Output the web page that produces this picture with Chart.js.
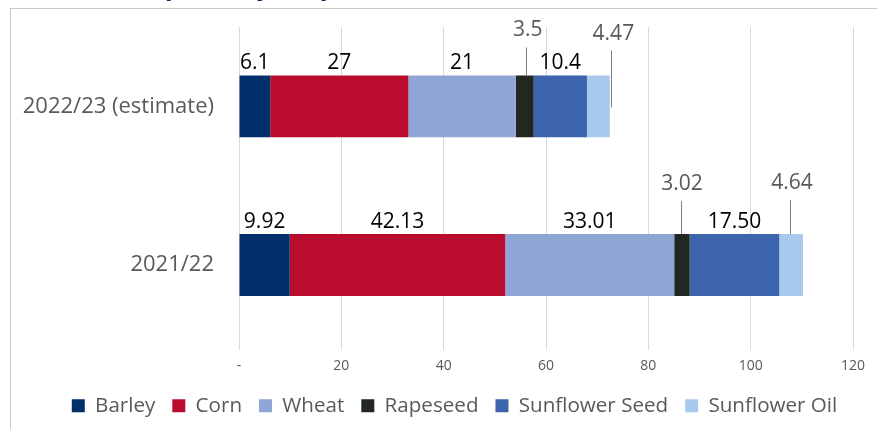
<!DOCTYPE html>
<html>
<head>
<meta charset="utf-8">
<script src="https://cdn.jsdelivr.net/npm/chart.js@4"></script>
<style>
  html, body { margin: 0; padding: 0; background: #fff; }
  body { width: 877px; height: 429px; position: relative; overflow: hidden; font-family: "Open Sans", sans-serif; }
  #frame { position: absolute; left: 10px; top: 8px; width: 900px; height: 460px; border: 1px solid #c8c8c8; box-sizing: border-box; }
  #title { position: absolute; left: 24px; top: -28px; font: bold 26px "Open Sans", sans-serif; line-height: 26px; color: #002F6C; white-space: nowrap; }
  #wrap { position: absolute; left: 0; top: 0; width: 877px; height: 429px; }
</style>
</head>
<body>
<div id="title">Ukraine exports by crop, mmt, MY</div>
<div id="frame"></div>
<div id="wrap"><canvas id="c" width="877" height="429"></canvas></div>
<script>
// ---- data ----
const categories = ['2022/23 (estimate)', '2021/22'];
const seriesNames = ['Barley', 'Corn', 'Wheat', 'Rapeseed', 'Sunflower Seed', 'Sunflower Oil'];
const barley = [6.1, 9.92];
const corn = [27, 42.13];
const wheat = [21, 33.01];
const rapeseed = [3.5, 3.02];
const sunflowerSeed = [10.4, 17.50];
const sunflowerOil = [4.47, 4.64];
const valueLabels = {
  Barley: ['6.1', '9.92'],
  Corn: ['27', '42.13'],
  Wheat: ['21', '33.01'],
  Rapeseed: ['3.5', '3.02'],
  'Sunflower Seed': ['10.4', '17.50'],
  'Sunflower Oil': ['4.47', '4.64']
};
const xTicks = [0, 20, 40, 60, 80, 100, 120];

// ---- styles ----
const colors = ['#002F6C', '#BA0C2F', '#8FA5D6', '#212721', '#3C65AE', '#A8C8EE'];
// leader-line labels: label center offset (dx, dy) from segment center / bar top,
// line x offset (lx), line start below label center (l0), line end below bar top (l1)
const leaderStyle = {
  Rapeseed: [{dx: 3, dy: -45, lx: 1, l0: 17, l1: 0}, {dx: 0, dy: -50, lx: -1, l0: 17, l1: 0}],
  'Sunflower Oil': [{dx: 15, dy: -41, lx: 13, l0: 16, l1: 32}, {dx: 1, dy: -51, lx: -1, l0: 17, l1: 0}]
};
const legendShift = 28;

const allSeries = [barley, corn, wheat, rapeseed, sunflowerSeed, sunflowerOil];
const datasets = seriesNames.map((n, i) => ({
  label: n,
  data: allSeries[i],
  backgroundColor: colors[i],
  borderWidth: 0,
  barPercentage: 0.78,
  categoryPercentage: 0.5
}));

const FONT = '"Open Sans", sans-serif';

const labelPlugin = {
  id: 'segLabels',
  afterLayout(chart) {
    if (chart.legend) {
      chart.legend.left += legendShift;
      chart.legend.right += legendShift;
    }
  },
  afterDatasetsDraw(chart) {
    const ctx = chart.ctx;
    ctx.save();
    ctx.font = '21px ' + FONT;
    ctx.textAlign = 'center';
    ctx.textBaseline = 'middle';
    chart.data.datasets.forEach((ds, di) => {
      const meta = chart.getDatasetMeta(di);
      meta.data.forEach((el, i) => {
        const cx = (el.x + el.base) / 2;
        const top = el.y - el.height / 2;
        const txt = valueLabels[ds.label][i];
        const ls = leaderStyle[ds.label];
        if (ls) {
          const o = ls[i];
          const lx = cx + o.dx, ly = top + o.dy;
          ctx.fillStyle = '#595959';
          ctx.fillText(txt, lx, ly);
          ctx.strokeStyle = '#7f7f7f';
          ctx.lineWidth = 1;
          const x = Math.round(cx + o.lx) + 0.5;
          ctx.beginPath();
          ctx.moveTo(x, ly + o.l0);
          ctx.lineTo(x, top + o.l1);
          ctx.stroke();
        } else {
          ctx.fillStyle = '#000';
          ctx.fillText(txt, cx, top - 12);
        }
      });
    });
    ctx.restore();
  }
};

new Chart(document.getElementById('c'), {
  type: 'bar',
  data: { labels: categories, datasets },
  plugins: [labelPlugin],
  options: {
    indexAxis: 'y',
    responsive: false,
    animation: false,
    layout: { padding: { top: 27, right: 24, left: 0, bottom: 3 } },
    plugins: {
      legend: {
        position: 'bottom',
        labels: {
          font: { family: FONT, size: 20.6 },
          color: '#595959',
          boxWidth: 13,
          boxHeight: 13,
          padding: 17
        }
      },
      tooltip: { enabled: false }
    },
    scales: {
      x: {
        stacked: true,
        min: 0,
        max: 120,
        afterBuildTicks(scale) { scale.ticks = xTicks.map(v => ({ value: v })); },
        afterFit(scale) { scale.height = 34; },
        ticks: {
          font: { family: FONT, size: 14 },
          color: '#595959',
          padding: 8,
          maxRotation: 0,
          callback: v => v === 0 ? '-' : String(v)
        },
        grid: { color: '#d9d9d9', tickLength: 5, drawTicks: true },
        border: { display: false }
      },
      y: {
        stacked: true,
        afterFit(scale) { scale.width = 239; scale.paddingTop = 0; scale.paddingBottom = 0; },
        ticks: {
          font: { family: FONT, size: 22 },
          color: '#595959',
          padding: 25
        },
        grid: { display: false, drawTicks: false },
        border: { display: false }
      }
    }
  }
});
</script>
</body>
</html>
